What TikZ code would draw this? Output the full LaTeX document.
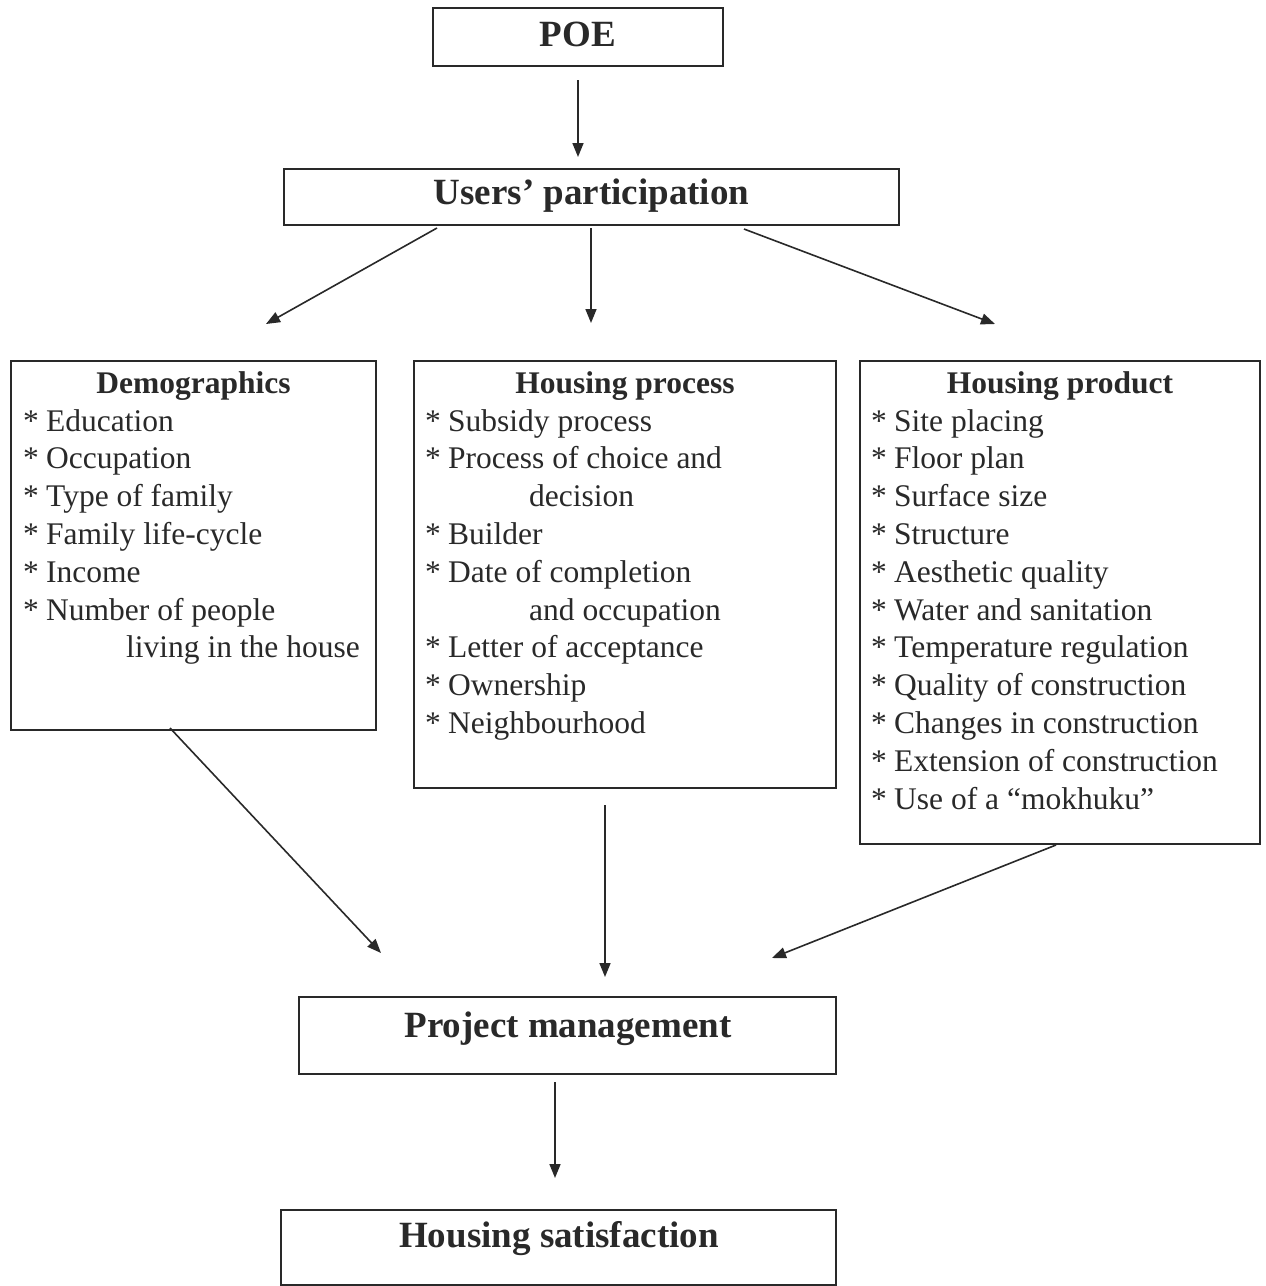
\documentclass[tikz,border=0pt]{standalone}
\usepackage{fontspec}
\setmainfont{Liberation Serif}
\usetikzlibrary{arrows.meta}
\definecolor{ink}{gray}{0.16}
\tikzset{
  box/.style={draw=ink, line width=1.7pt, minimum width=#1, inner sep=0pt},
  big/.style={anchor=base, inner sep=0pt, text=ink, font=\fontsize{37}{44}\selectfont\bfseries},
  ttl/.style={anchor=base, inner sep=0pt, text=ink, font=\fontsize{31.5}{37.8}\selectfont\bfseries},
  item/.style={anchor=base west, inner sep=0pt, text=ink, font=\fontsize{31.5}{37.8}\selectfont},
  arr/.style={draw=ink, line width=1.6pt, -{Triangle[length=14pt,width=11pt]}}
}
\newcommand{\bul}{\makebox[23pt][l]{*}}
\begin{document}
\begin{tikzpicture}[x=1pt,y=-1pt]
\useasboundingbox (0,0) rectangle (1266,1286);
% boxes
\node[box=290, minimum height=58] (poe) at (578,37) {};
\node[box=615, minimum height=56] (users) at (591.5,197) {};
\node[box=365, minimum height=369] (demo) at (193.5,545.5) {};
\node[box=422, minimum height=427] (proc) at (625,574.5) {};
\node[box=400, minimum height=483] (prod) at (1060,602.5) {};
\node[box=537, minimum height=77] (pm) at (567.5,1035.5) {};
\node[box=555, minimum height=75] (hs) at (558.5,1247.5) {};
% big labels
\node[big] (poet) at (578,46) {POE};
\node[big] (userst) at (591.5,204) {Users' participation};
\node[big] (pmt) at (568,1037) {Project management};
\node[big] (hst) at (559,1247) {Housing satisfaction};
% titles
\node[ttl] (demot) at (193.5,393) {Demographics};
\node[ttl] (proct) at (625,393) {Housing process};
\node[ttl] (prodt) at (1060,393) {Housing product};
% demographics items
\foreach \t [count=\i from 0] in {Education,Occupation,Type of family,Family life-cycle,Income,Number of people}
  \node[item] (d\i) at (23,431+37.8*\i) {\bul\t};
\node[item] (d6) at (126,657.8) {living in the house};
% process items
\node[item] (p0) at (425,431) {\bul Subsidy process};
\node[item] (p1) at (425,468.8) {\bul Process of choice and};
\node[item] (p2) at (529,506.6) {decision};
\node[item] (p3) at (425,544.4) {\bul Builder};
\node[item] (p4) at (425,582.2) {\bul Date of completion};
\node[item] (p5) at (529,620) {and occupation};
\node[item] (p6) at (425,657.8) {\bul Letter of acceptance};
\node[item] (p7) at (425,695.6) {\bul Ownership};
\node[item] (p8) at (425,733.4) {\bul Neighbourhood};
% product items
\foreach \t [count=\i from 0] in {Site placing,Floor plan,Surface size,Structure,Aesthetic quality,Water and sanitation,Temperature regulation,Quality of construction,Changes in construction,Extension of construction,Use of a ``mokhuku''}
  \node[item] (r\i) at (871,431+37.8*\i) {\bul\t};
% connector end points
\coordinate (a1s) at (578,80);   \coordinate (a1e) at (578,157);
\coordinate (a2s) at (437,228);  \coordinate (a2e) at (266,324);
\coordinate (a3s) at (591,228);  \coordinate (a3e) at (591,323);
\coordinate (a4s) at (744,229);  \coordinate (a4e) at (995,324);
\coordinate (a5s) at (170,728);  \coordinate (a5e) at (381,953);
\coordinate (a6s) at (605,805);  \coordinate (a6e) at (605,977);
\coordinate (a7s) at (1056,845); \coordinate (a7e) at (772,958);
\coordinate (a8s) at (555,1082); \coordinate (a8e) at (555,1178);
\draw[arr] (a1s) -- (a1e);
\draw[arr] (a2s) -- (a2e);
\draw[arr] (a3s) -- (a3e);
\draw[arr] (a4s) -- (a4e);
\draw[arr] (a5s) -- (a5e);
\draw[arr] (a6s) -- (a6e);
\draw[arr] (a7s) -- (a7e);
\draw[arr] (a8s) -- (a8e);
\end{tikzpicture}
\end{document}
